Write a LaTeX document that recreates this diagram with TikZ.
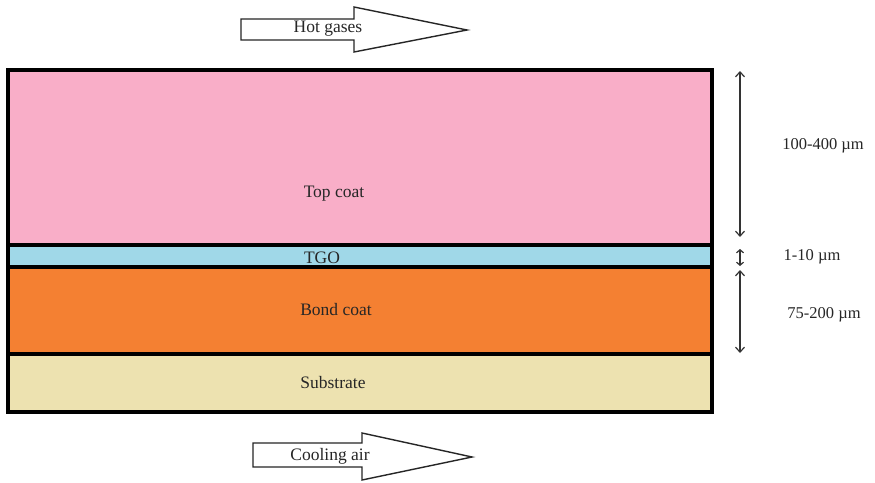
\documentclass[tikz,border=0pt]{standalone}
\usepackage{fontspec}
\setmainfont{Liberation Serif}
\usetikzlibrary{arrows.meta}
\definecolor{topc}{RGB}{249,174,200}
\definecolor{tgoc}{RGB}{160,216,232}
\definecolor{bondc}{RGB}{244,128,50}
\definecolor{subc}{RGB}{237,226,176}
\begin{document}
\begin{tikzpicture}[x=1pt,y=-1pt,
  lbl/.style={font=\fontsize{17.5}{19}\selectfont, inner sep=0pt, text=black!85},
  dimlbl/.style={font=\fontsize{16.5}{18}\selectfont, inner sep=0pt, text=black!85},
  flowarrow/.style={draw=black!85, line width=1.4pt, fill=white, line join=miter},
  dimline/.style={draw=black!80, line width=1.2pt, {Straight Barb[length=5pt,width=9pt]}-{Straight Barb[length=5pt,width=9pt]}},
  sep/.style={line width=4.5pt}]
\useasboundingbox (0,0) rectangle (875,482);
\fill[white] (0,0) rectangle (875,482);
% layers
\fill[topc] (8,70) rectangle (712,245);
\fill[tgoc] (8,245) rectangle (712,267);
\fill[bondc] (8,267) rectangle (712,354);
\fill[subc] (8,354) rectangle (712,412);
\draw[sep] (8,245) -- (712,245);
\draw[sep] (8,267) -- (712,267);
\draw[sep] (8,354) -- (712,354);
\draw[sep] (8,70) rectangle (712,412);
\node[lbl] (top) at (334,194) {Top coat};
\node[lbl] (tgo) at (322,258) {TGO};
\node[lbl] (bond) at (336,310) {Bond coat};
\node[lbl] (sub) at (333,383) {Substrate};
% flow arrows
\draw[flowarrow] (241,19) -- (354,19) -- (354,7) -- (467,30) -- (354,52) -- (354,40) -- (241,40) -- cycle;
\node[lbl] (hot) at (328,29) {Hot gases};
\draw[flowarrow] (253,443) -- (362,443) -- (362,433) -- (472,457) -- (362,480) -- (362,467) -- (253,467) -- cycle;
\node[lbl] (cool) at (330,456) {Cooling air};
% dimensions
\coordinate (d1a) at (740,71);
\coordinate (d1b) at (740,237);
\coordinate (d2a) at (740,249);
\coordinate (d2b) at (740,266);
\coordinate (d3a) at (740,270);
\coordinate (d3b) at (740,353);
\draw[dimline] (d1a) -- (d1b);
\draw[dimline, {Straight Barb[length=3pt,width=7pt]}-{Straight Barb[length=3pt,width=7pt]}] (d2a) -- (d2b);
\draw[dimline] (d3a) -- (d3b);
\node[dimlbl] (t1) at (823,146) {100-400 µm};
\node[dimlbl] (t2) at (812,257) {1-10 µm};
\node[dimlbl] (t3) at (824,315) {75-200 µm};
\end{tikzpicture}
\end{document}
